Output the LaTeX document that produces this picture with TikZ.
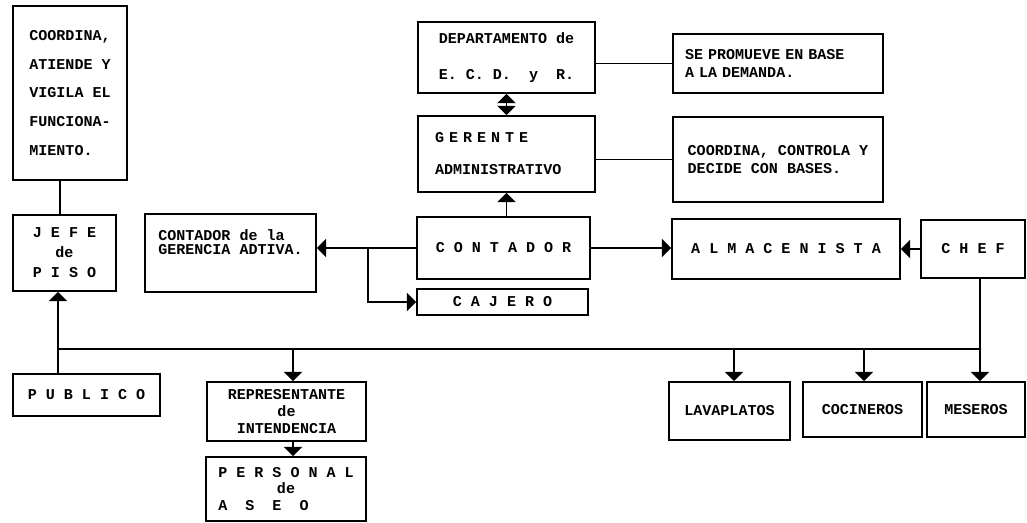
\documentclass[tikz,border=0pt]{standalone}
\usepackage{fontspec}
\setmainfont{Liberation Mono}
\usetikzlibrary{arrows.meta}
\newcommand\upx{0.025cm}
\frenchspacing

\begin{document}
\begin{tikzpicture}[x=0.025cm,y=-0.025cm,
  caja/.style={draw,line width=1.4pt,inner sep=0pt,font=\fontsize{10.7}{12.8}\selectfont\bfseries},
  flecha/.style={line width=1.3pt,-{Triangle[width=13pt,length=6.5pt]}},
  dobleflecha/.style={line width=1.3pt,{Triangle[width=13pt,length=6.5pt]}-{Triangle[width=13pt,length=6.5pt]}},
  linea/.style={line width=1.3pt}]
  \useasboundingbox (0,0) rectangle (1027,523);
  % columna izquierda
  \node[caja,minimum width=114*\upx,minimum height=174*\upx,align=left,
        font=\fontsize{10.7}{20.4}\selectfont\bfseries] (obs) at (70,93)
    {COORDINA,\\ATIENDE Y\\VIGILA EL\\FUNCIONA-\\MIENTO.};
  \node[caja,minimum width=103*\upx,minimum height=76*\upx,align=center,
        font=\fontsize{10.7}{14.2}\selectfont\bfseries] (jefe) at (64.5,253) {J E F E\\de\\P I S O};
  \node[caja,minimum width=147*\upx,minimum height=42*\upx] (pub) at (86.5,395) {P U B L I C O};
  \node[caja,minimum width=171*\upx,minimum height=78*\upx] (contg) at (230.5,253) {};
  \node[align=left,inner sep=0pt,font=\fontsize{10.7}{10.2}\selectfont\bfseries] (contgtxt) at (230.5,242)
    {CONTADOR de la\\GERENCIA ADTIVA.};
  % columna central
  \node[caja,minimum width=177*\upx,minimum height=71*\upx,align=left,
        font=\fontsize{10.7}{25.6}\selectfont\bfseries] (dep) at (506.5,57.5) {DEPARTAMENTO de\\E.~C.~D.~~y~~R.};
  \node[caja,minimum width=177*\upx,minimum height=76*\upx,align=left,text width=143*\upx,
        font=\fontsize{10.7}{22.8}\selectfont\bfseries] (ger) at (506.5,154) {G E R E N T E\\ADMINISTRATIVO};
  \node[caja,minimum width=173*\upx,minimum height=62*\upx] (cont) at (503.5,248) {C O N T A D O R};
  \node[caja,minimum width=171*\upx,minimum height=26*\upx] (caj) at (502.5,302) {C A J E R O};
  % columna derecha
  \node[caja,minimum width=210*\upx,minimum height=59*\upx,align=left,text width=186*\upx] (prom) at (778,63.5)
    {SE PROMUEVE EN BASE\\A LA DEMANDA.};
  \node[caja,minimum width=210*\upx,minimum height=85*\upx,align=left] (dec) at (778,159.5)
    {COORDINA, CONTROLA Y\\DECIDE CON BASES.};
  \node[caja,minimum width=228*\upx,minimum height=60*\upx] (alm) at (786,249) {A L M A C E N I S T A};
  \node[caja,minimum width=104*\upx,minimum height=58*\upx] (chef) at (973,249) {C H E F};
  % fila inferior
  \node[caja,minimum width=159*\upx,minimum height=59*\upx,align=center,
        font=\fontsize{10.7}{12.1}\selectfont\bfseries] (rep) at (286.5,411.5) {REPRESENTANTE\\de\\INTENDENCIA};
  \node[caja,minimum width=160*\upx,minimum height=64*\upx,align=center,
        font=\fontsize{10.7}{11.7}\selectfont\bfseries] (pers) at (286,489) {P E R S O N A L\\de\\A~~S~~E~~O\hphantom{XXXXX}};
  \node[caja,minimum width=121*\upx,minimum height=58*\upx] (lav) at (729.5,411) {LAVAPLATOS};
  \node[caja,minimum width=119*\upx,minimum height=55*\upx] (coc) at (862.5,409.5) {COCINEROS};
  \node[caja,minimum width=98*\upx,minimum height=55*\upx] (mes) at (976,409.5) {MESEROS};
  % puntos de las lineas
  \coordinate (pisoX) at (60,0);
  \coordinate (busL) at (58,349);
  \coordinate (busR) at (980,349);
  \coordinate (ramal) at (368,249);
  \coordinate (bajaRep) at (293,349);
  \coordinate (bajaLav) at (734,349);
  \coordinate (bajaCoc) at (864,349);
  % conexiones
  \draw[linea] (obs.south -| pisoX) -- (jefe.north -| pisoX);
  \draw[flecha] (pub.north -| busL) -- (jefe.south -| busL);
  \draw[linea] (busL) -- (busR);
  \draw[flecha] (chef.south -| busR) -- (mes.north -| busR);
  \draw[flecha] (bajaRep) -- (rep.north -| bajaRep);
  \draw[flecha] (rep.south -| bajaRep) -- (pers.north -| bajaRep);
  \draw[flecha] (bajaLav) -- (lav.north -| bajaLav);
  \draw[flecha] (bajaCoc) -- (coc.north -| bajaCoc);
  \draw[dobleflecha] (dep.south) -- (ger.north);
  \draw[flecha] (cont.north -| ger.south) -- (ger.south);
  \draw[linea] (dep.east |- prom.west) -- (prom.west);
  \draw[linea] (ger.east |- dec.west) -- (dec.west);
  \draw[flecha] (cont.east) -- (cont.east -| alm.west);
  \draw[flecha] (chef.west) -- (chef.west -| alm.east);
  \draw[flecha] (cont.west) -- (cont.west -| contg.east);
  \draw[flecha] (cont.west -| ramal) |- (caj.west);
\end{tikzpicture}
\end{document}
